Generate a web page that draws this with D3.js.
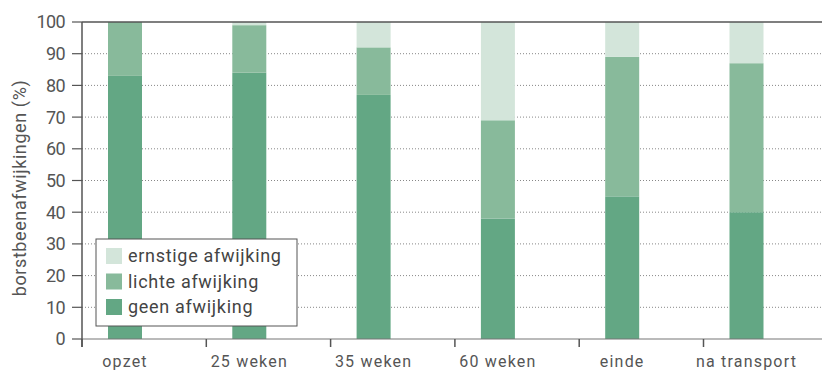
<!DOCTYPE html>
<html>
<head>
<meta charset="utf-8">
<script src="https://cdn.jsdelivr.net/npm/d3@7"></script>
<style>
  body { margin: 0; background: #fff; }
  text { font-family: Roboto, "DejaVu Sans", sans-serif; fill: #555; }
</style>
</head>
<body>
<div id="chart"></div>
<script>
// categories and stacked values (percent)
const categories = ["opzet", "25 weken", "35 weken", "60 weken", "einde", "na transport"];
const geen     = [83, 84, 77, 38, 45, 40];
const lichte   = [17, 15, 15, 31, 44, 47];
const ernstige = [0, 1, 8, 31, 11, 13];
const yTicks = [0, 10, 20, 30, 40, 50, 60, 70, 80, 90, 100];

const seriesNames = ["geen afwijking", "lichte afwijking", "ernstige afwijking"];
const colors = ["#63a784", "#88ba9b", "#d3e5da"];

const W = 822, H = 374;
const mLeft = 82, mTop = 22, mBottom = 339, mRight = 822;

const svg = d3.select("#chart").append("svg")
  .attr("width", W).attr("height", H);

// build table for stacking
const table = categories.map((c, i) => ({
  cat: c,
  "geen afwijking": geen[i],
  "lichte afwijking": lichte[i],
  "ernstige afwijking": ernstige[i]
}));
const stacked = d3.stack().keys(seriesNames)(table);

const x = d3.scaleBand().domain(categories).range([mLeft, mLeft + 6 * 124.3]).padding(0);
const y = d3.scaleLinear().domain([0, 100]).range([mBottom, mTop]);

// gridlines
svg.append("g").selectAll("line")
  .data(yTicks.filter(t => t > 0 && t < 100))
  .enter().append("line")
  .attr("x1", mLeft).attr("x2", mRight)
  .attr("y1", d => y(d)).attr("y2", d => y(d))
  .attr("stroke", "#888").attr("stroke-width", 1)
  .attr("stroke-dasharray", "1,2");

// bars
svg.append("g").selectAll("g")
  .data(stacked)
  .enter().append("g")
  .attr("fill", (d, i) => colors[i])
  .selectAll("rect")
  .data(d => d)
  .enter().append("rect")
  .attr("x", d => x(d.data.cat) + 26)
  .attr("width", 34)
  .attr("y", d => y(d[1]))
  .attr("height", d => y(d[0]) - y(d[1]));

// top line
svg.append("line")
  .attr("x1", mLeft).attr("x2", mRight)
  .attr("y1", y(100)).attr("y2", y(100))
  .attr("stroke", "#555").attr("stroke-width", 1.5);

// bottom axis line
svg.append("line")
  .attr("x1", mLeft).attr("x2", mRight)
  .attr("y1", y(0)).attr("y2", y(0))
  .attr("stroke", "#777").attr("stroke-width", 1.2);

// left axis
svg.append("line")
  .attr("x1", mLeft).attr("x2", mLeft)
  .attr("y1", y(100)).attr("y2", y(0) + 8)
  .attr("stroke", "#555").attr("stroke-width", 1.5);

const yt = svg.append("g").selectAll("g")
  .data(yTicks).enter().append("g");
yt.append("line")
  .attr("x1", mLeft - 10).attr("x2", mLeft)
  .attr("y1", d => y(d)).attr("y2", d => y(d))
  .attr("stroke", "#555").attr("stroke-width", 1.2);
yt.append("text")
  .attr("x", mLeft - 17)
  .attr("y", d => y(d))
  .attr("dy", "0.36em")
  .attr("text-anchor", "end")
  .style("font-size", "18px")
  .style("letter-spacing", "-0.6px")
  .text(d => d);

// x ticks and labels
const xt = svg.append("g").selectAll("g")
  .data(categories).enter().append("g");
xt.append("line")
  .attr("x1", d => x(d)).attr("x2", d => x(d))
  .attr("y1", y(0)).attr("y2", y(0) + 8)
  .attr("stroke", "#555").attr("stroke-width", 1.5);
xt.append("text")
  .attr("x", d => x(d) + 43)
  .attr("y", 367)
  .attr("text-anchor", "middle")
  .style("font-size", "16px")
  .style("letter-spacing", "1.2px")
  .text(d => d);

// y label
svg.append("text")
  .attr("transform", `translate(26, 188) rotate(-90)`)
  .attr("text-anchor", "middle")
  .style("font-size", "18px")
  .style("letter-spacing", "0.6px")
  .text("borstbeenafwijkingen (%)");

// legend
const legend = svg.append("g").attr("transform", "translate(96,239)");
legend.append("rect")
  .attr("width", 201).attr("height", 87)
  .attr("fill", "#fff").attr("stroke", "#555").attr("stroke-width", 1);
const legendItems = seriesNames.slice().reverse();
const legendColors = colors.slice().reverse();
legendItems.forEach((name, i) => {
  const row = legend.append("g").attr("transform", `translate(10, ${9 + i * 25.5})`);
  row.append("rect").attr("width", 16).attr("height", 16).attr("fill", legendColors[i]);
  row.append("text")
    .attr("x", 22).attr("y", 8).attr("dy", "0.36em")
    .style("font-size", "18px")
    .style("letter-spacing", "0.7px")
    .style("fill", "#444")
    .text(name);
});
</script>
</body>
</html>
